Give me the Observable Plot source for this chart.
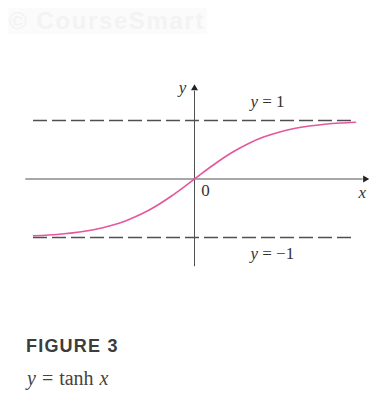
<!DOCTYPE html>
<html>
<head>
<meta charset="utf-8">
<script src="https://cdn.jsdelivr.net/npm/d3@7"></script>
<script src="https://cdn.jsdelivr.net/npm/@observablehq/plot@0.6"></script>
<style>
  html, body { margin: 0; padding: 0; background: #fff; }
  #wrap { position: relative; width: 390px; height: 399px; overflow: hidden; }
  #wrap svg { position: absolute; left: 0; top: 0; }
  .mark {
    position: absolute; left: 8px; top: 8px; height: 26px;
    background: #fbfbfb; color: #f3f3f3;
    font: bold 24px "Liberation Sans", Arial, sans-serif; line-height: 26px;
    letter-spacing: 1.6px; padding: 0 2px 0 1px; white-space: nowrap;
  }
  .fig-title {
    position: absolute; left: 26px; top: 336px;
    font: bold 18px "Liberation Sans Narrow", "Liberation Sans", sans-serif;
    letter-spacing: 1.2px; color: #3c3c3c;
  }
  .fig-caption {
    position: absolute; left: 27px; top: 367px;
    font: 20px "Liberation Serif", "DejaVu Serif", serif; color: #444; word-spacing: 1px;
  }
</style>
</head>
<body>
<div id="wrap">
  <div class="mark">© CourseSmart</div>
  <div class="fig-title">FIGURE 3</div>
  <div class="fig-caption"><i>y</i> = tanh <i>x</i></div>
</div>
<script>
// y = tanh x, sampled values
const curveX = [-2.1, -1.9, -1.7, -1.5, -1.3, -1.1, -0.9, -0.7, -0.5, -0.3, -0.1, 0,
                0.1, 0.3, 0.5, 0.7, 0.9, 1.1, 1.3, 1.5, 1.7, 1.9, 2.1];
const curveY = [-0.970, -0.956, -0.935, -0.905, -0.862, -0.800, -0.716, -0.604, -0.462, -0.291, -0.100, 0,
                0.100, 0.291, 0.462, 0.604, 0.716, 0.800, 0.862, 0.905, 0.935, 0.956, 0.970];

// horizontal asymptotes and their labels
const asymptotes = [1, -1];
const asymptoteLabels = ["y = 1", "y = \u22121"];

// axis extents (data units)
const xAxisExtent = [-2.2, 2.2];
const yAxisExtent = [-1.5, 1.5];

const points = curveX.map((x, i) => ({x, y: curveY[i]}));
const asymRows = asymptotes.map((v, i) => ({v, label: asymptoteLabels[i]}));

const pink = "#e4579d";
const ink = "#505050";
const serif = "Liberation Serif, DejaVu Serif, serif";

const chart = Plot.plot({
  width: 390,
  height: 300,
  margin: 0,
  style: {background: "transparent", overflow: "visible"},
  x: {domain: [-2.1, 2.1], range: [33, 355], axis: null},
  y: {domain: [-1, 1], range: [237, 120], axis: null},
  marks: [
    // dashed asymptotes
    Plot.ruleY(asymRows, {y: "v", x1: -2.1, x2: 2.1, stroke: ink, strokeWidth: 1.7, strokeDasharray: "14,5"}),
    // x axis with arrowhead
    Plot.ruleY([0], {x1: xAxisExtent[0], x2: xAxisExtent[1], stroke: ink, strokeWidth: 1}),
    Plot.dot([0], {x: () => xAxisExtent[1], y: 0, symbol: "triangle", r: 2.6, rotate: 90, fill: "#222", stroke: "none", dx: 2}),
    // y axis with arrowhead
    Plot.ruleX([0], {y1: yAxisExtent[0], y2: yAxisExtent[1], stroke: ink, strokeWidth: 1}),
    Plot.dot([0], {x: 0, y: () => yAxisExtent[1], symbol: "triangle", r: 2.6, fill: "#222", stroke: "none", dy: -3}),
    // the curve
    Plot.line(points, {x: "x", y: "y", stroke: pink, strokeWidth: 1.6, curve: "catmull-rom"}),
    // asymptote labels
    Plot.text(asymRows, {x: 0.73, y: "v", text: "label", textAnchor: "start", fontFamily: serif, fontSize: 17, fill: "#333"}),
    // axis labels
    Plot.text(["y"], {x: 0, y: yAxisExtent[1], text: d => d, dx: -12, dy: -4, fontFamily: serif, fontStyle: "italic", fontSize: 17, fill: "#333"}),
    Plot.text(["x"], {x: xAxisExtent[1], y: 0, text: d => d, dx: -1, dy: 14, fontFamily: serif, fontStyle: "italic", fontSize: 17, fill: "#333"}),
    Plot.text(["0"], {x: 0, y: 0, text: d => d, dx: 11, dy: 12, fontFamily: serif, fontSize: 17, fill: "#333"})
  ]
});

// shift asymptote labels off their lines and italicise the variable name
chart.querySelectorAll("text").forEach(t => {
  const s = t.textContent;
  if (s.startsWith("y = ")) {
    const up = s === "y = 1";
    t.setAttribute("transform", (t.getAttribute("transform") || "") + ` translate(0,${up ? -19 : 16})`);
    t.innerHTML = `<tspan font-style="italic">y</tspan>${s.slice(1)}`;
  }
});

document.getElementById("wrap").prepend(chart);
</script>
</body>
</html>
